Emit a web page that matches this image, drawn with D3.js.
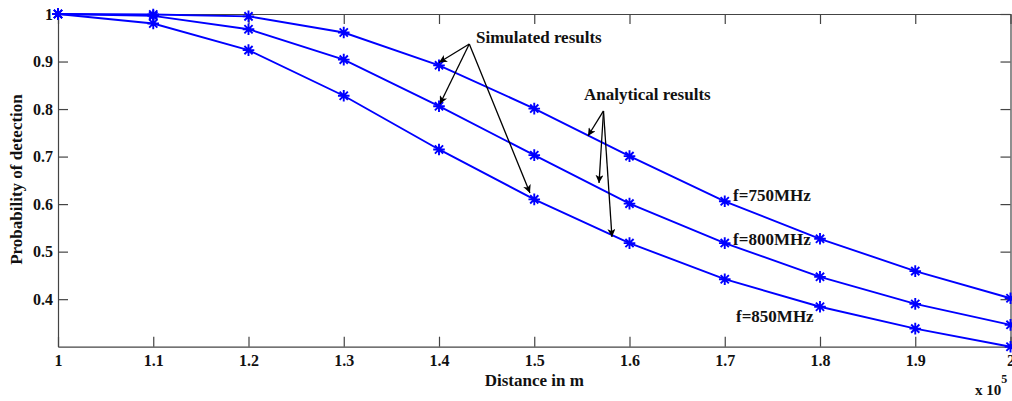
<!DOCTYPE html>
<html>
<head>
<meta charset="utf-8">
<script src="https://cdn.jsdelivr.net/npm/d3@7"></script>
<style>
  body { margin: 0; background: #fff; }
  svg text { font-family: "Liberation Serif", "Times New Roman", serif; font-weight: bold; fill: #111; }
</style>
</head>
<body>
<svg id="chart"></svg>
<script>
// distance values (x 10^5 m)
const distance = [1, 1.1, 1.2, 1.3, 1.4, 1.5, 1.6, 1.7, 1.8, 1.9, 2];

// probability of detection for each frequency
const pd750 = [1, 0.999, 0.995, 0.961, 0.892, 0.801, 0.701, 0.606, 0.527, 0.459, 0.402];
const pd800 = [1, 0.996, 0.968, 0.904, 0.806, 0.703, 0.601, 0.518, 0.447, 0.390, 0.346];
const pd850 = [1, 0.980, 0.924, 0.828, 0.715, 0.610, 0.518, 0.442, 0.384, 0.338, 0.300];

const xTicks = [1, 1.1, 1.2, 1.3, 1.4, 1.5, 1.6, 1.7, 1.8, 1.9, 2];
const yTicks = [0.4, 0.5, 0.6, 0.7, 0.8, 0.9, 1];

// frequency labels, in data units
const freqLabels = [
  { text: 'f=750MHz', x: 1.7087, y: 0.607 },
  { text: 'f=800MHz', x: 1.7087, y: 0.514 },
  { text: 'f=850MHz', x: 1.7118, y: 0.351 }
];

// arrow annotations, in data units
const simOrigin = [1.4318, 0.9369];
const simTips = [[1.400, 0.898], [1.401, 0.8106], [1.4955, 0.6234]];
const anaOrigin = [1.5727, 0.796];
const anaTips = [[1.5564, 0.7433], [1.568, 0.6444], [1.5816, 0.5308]];

const width = 1012, height = 401;
const margin = { left: 58, right: 1.5, top: 14, bottom: 54.3 };

const svg = d3.select('#chart')
  .attr('width', width)
  .attr('height', height);

const x = d3.scaleLinear()
  .domain([1, 2])
  .range([margin.left, width - margin.right]);

const y = d3.scaleLinear()
  .domain([0.3, 1])
  .range([height - margin.bottom, margin.top]);

const axisColor = '#444';

// box + ticks (MATLAB style, ticks inward on all sides)
const gx = svg.append('g')
  .attr('transform', `translate(0,${y(0.3)})`)
  .call(d3.axisBottom(x).tickValues(xTicks).tickFormat(d3.format('')).tickSize(-10).tickSizeOuter(0).tickPadding(8));
const gxTop = svg.append('g')
  .attr('transform', `translate(0,${y(1)})`)
  .call(d3.axisTop(x).tickValues(xTicks).tickFormat('').tickSize(-10).tickSizeOuter(0));
const gy = svg.append('g')
  .attr('transform', `translate(${x(1)},0)`)
  .call(d3.axisLeft(y).tickValues(yTicks).tickFormat(d3.format('')).tickSize(-10).tickSizeOuter(0).tickPadding(5));
const gyRight = svg.append('g')
  .attr('transform', `translate(${x(2)},0)`)
  .call(d3.axisRight(y).tickValues(yTicks).tickFormat('').tickSize(-10).tickSizeOuter(0));

[gx, gxTop, gy, gyRight].forEach(g => {
  g.selectAll('path.domain').attr('stroke', axisColor).attr('stroke-width', 1.2);
  g.selectAll('line').attr('stroke', axisColor).attr('stroke-width', 1.2);
  g.selectAll('text').style('font-size', '16px').attr('fill', '#111');
});

// series lines
const series = [pd750, pd800, pd850];
const line = d3.line()
  .x((d, i) => x(distance[i]))
  .y(d => y(d));

svg.selectAll('path.series')
  .data(series)
  .enter()
  .append('path')
  .attr('class', 'series')
  .attr('d', d => line(d))
  .attr('fill', 'none')
  .attr('stroke', '#0000ff')
  .attr('stroke-width', 1.9);

// asterisk markers
const r = 5.8, rd = 4.1;
const star = `M${-r},0L${r},0M0,${-r}L0,${r}M${-rd},${-rd}L${rd},${rd}M${-rd},${rd}L${rd},${-rd}`;
series.forEach(s => {
  svg.append('g')
    .selectAll('path')
    .data(s)
    .enter()
    .append('path')
    .attr('transform', (d, i) => `translate(${x(distance[i])},${y(d)})`)
    .attr('d', star)
    .attr('stroke', '#0000ff')
    .attr('stroke-width', 1.9)
    .attr('fill', 'none');
});

// arrowheads
svg.append('defs').append('marker')
  .attr('id', 'arrow')
  .attr('viewBox', '0 0 10 10')
  .attr('refX', 10).attr('refY', 5)
  .attr('markerWidth', 12).attr('markerHeight', 8)
  .attr('markerUnits', 'userSpaceOnUse')
  .attr('orient', 'auto')
  .append('path')
  .attr('d', 'M0,0L10,5L0,10L2.5,5z')
  .attr('fill', '#000');

function arrows(origin, tips) {
  svg.append('g')
    .selectAll('line')
    .data(tips)
    .enter()
    .append('line')
    .attr('x1', x(origin[0])).attr('y1', y(origin[1]))
    .attr('x2', d => x(d[0])).attr('y2', d => y(d[1]))
    .attr('stroke', '#000')
    .attr('stroke-width', 1.3)
    .attr('marker-end', 'url(#arrow)');
}
arrows(simOrigin, simTips);
arrows(anaOrigin, anaTips);

svg.append('text')
  .attr('x', x(1.4388)).attr('y', y(0.939))
  .style('font-size', '17px')
  .text('Simulated results');
svg.append('text')
  .attr('x', x(1.5522)).attr('y', y(0.8191))
  .style('font-size', '17px')
  .text('Analytical results');

svg.selectAll('text.flab')
  .data(freqLabels)
  .enter()
  .append('text')
  .attr('class', 'flab')
  .attr('x', d => x(d.x))
  .attr('y', d => y(d.y))
  .style('font-size', '17px')
  .text(d => d.text);

// axis titles
svg.append('text')
  .attr('x', (x(1) + x(2)) / 2)
  .attr('y', 386)
  .attr('text-anchor', 'middle')
  .style('font-size', '17px')
  .text('Distance in m');

svg.append('text')
  .attr('transform', `translate(22,${(86 + 273) / 2}) rotate(-90)`)
  .attr('text-anchor', 'middle')
  .style('font-size', '17px')
  .text('Probability of detection');

// exponent
const expo = svg.append('text')
  .attr('x', 975).attr('y', 395)
  .style('font-size', '15px');
expo.append('tspan').text('x 10');
expo.append('tspan').attr('dy', -12).style('font-size', '12px').text('5');
</script>
</body>
</html>
